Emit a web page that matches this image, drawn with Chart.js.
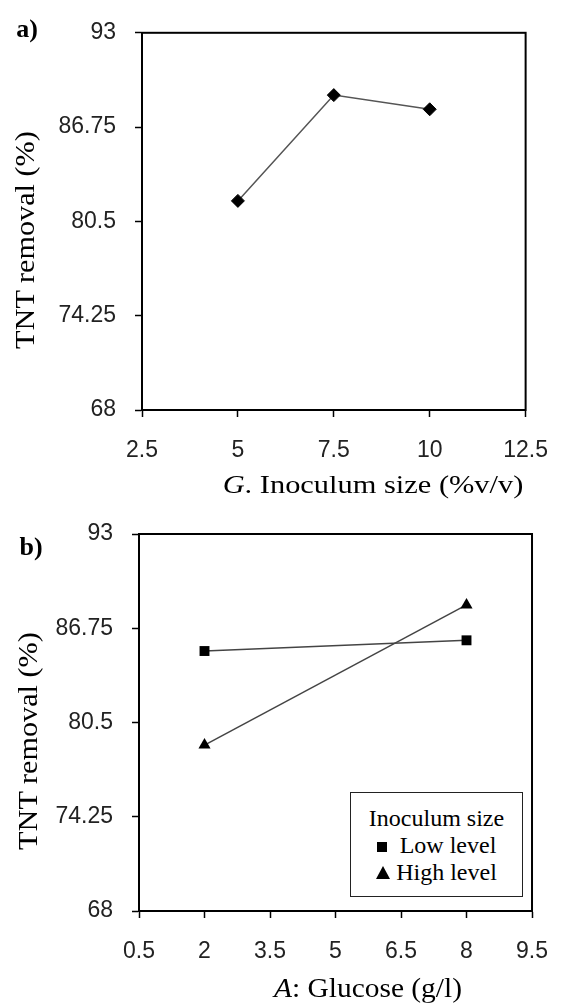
<!DOCTYPE html>
<html>
<head>
<meta charset="utf-8">
<script src="https://cdn.jsdelivr.net/npm/chart.js@4/dist/chart.umd.min.js"></script>
<style>
  html, body { margin: 0; padding: 0; background: #fff; }
  #wrap { position: relative; width: 568px; height: 1004px; overflow: hidden; background: #fff; }
  canvas { position: absolute; left: 0; }
  .t { position: absolute; white-space: nowrap; font-family: "Liberation Serif", "Times New Roman", serif; color: #000; line-height: 1; transform: translate(-50%, -50%); }
  .rot { transform: translate(-50%, -50%) rotate(-90deg) scaleX(1.08); }
  .lab { font-weight: bold; font-size: 26px; }
  #legend { position: absolute; left: 350px; top: 792px; width: 171px; border: 1px solid #222; background: #fff;
            font-family: "Liberation Serif", "Times New Roman", serif; font-size: 24px; line-height: 27px; text-align: center; padding-top: 12px; box-sizing: content-box; height: 91px; }
  .row { white-space: nowrap; }
  .sq { display: inline-block; width: 10px; height: 10px; background: #000; margin-right: 13px; vertical-align: 1px; }
  .tri { display: inline-block; width: 0; height: 0; border-left: 7px solid transparent; border-right: 7px solid transparent; border-bottom: 13px solid #000; margin-right: 6px; vertical-align: 1px; }
</style>
</head>
<body>
<div id="wrap">
  <canvas id="ca" width="568" height="500" style="top:0"></canvas>
  <canvas id="cb" width="568" height="504" style="top:500px"></canvas>

  <div class="t lab" style="left:27px; top:29px;">a)</div>
  <div class="t rot" style="left:25px; top:240px; font-size:28px;">TNT removal (%)</div>
  <div class="t" style="left:373px; top:485px; font-size:26px; transform: translate(-50%, -50%) scaleX(1.17);"><i>G</i>. Inoculum size (%v/v)</div>

  <div class="t lab" style="left:31px; top:547px;">b)</div>
  <div class="t rot" style="left:28px; top:741px; font-size:28px;">TNT removal (%)</div>
  <div class="t" style="left:368px; top:988px; font-size:27px; transform: translate(-50%, -50%) scaleX(1.09);"><i>A</i>: Glucose (g/l)</div>

  <div id="legend"></div>
</div>
<script>
// ---- data ----
const inoculumSize = [5, 7.5, 10];
const removalA = [81.86, 88.87, 87.93];

const glucose = [2, 8];
const lowLevel = [85.24, 85.95];
const highLevel = [79.0, 88.3];

const yTicks = [68, 74.25, 80.5, 86.75, 93];
const xTicksA = [2.5, 5, 7.5, 10, 12.5];
const xTicksB = [0.5, 2, 3.5, 5, 6.5, 8, 9.5];

const legendTitle = 'Inoculum size';
const seriesNames = ['Low level', 'High level'];

const frame = {
  id: 'frame',
  afterDraw(chart) {
    const a = chart.chartArea, ctx = chart.ctx;
    ctx.save();
    ctx.strokeStyle = '#000';
    ctx.lineWidth = 2;
    ctx.strokeRect(a.left, a.top, a.right - a.left, a.bottom - a.top);
    ctx.restore();
  }
};

function pts(xs, ys) { return xs.map((x, i) => ({ x: x, y: ys[i] })); }

function makeChart(id, datasets, xTicks, yLeft, padTop, padRight, padBottom) {
  const tickFont = { family: '"Liberation Sans", Arial, sans-serif', size: 23 };
  return new Chart(document.getElementById(id), {
    type: 'scatter',
    data: { datasets: datasets },
    plugins: [frame],
    options: {
      responsive: false,
      animation: false,
      devicePixelRatio: 1,
      layout: { padding: { left: 0, top: padTop, right: padRight, bottom: padBottom } },
      plugins: { legend: { display: false }, tooltip: { enabled: false } },
      scales: {
        x: {
          type: 'linear',
          min: xTicks[0], max: xTicks[xTicks.length - 1],
          afterBuildTicks: s => { s.ticks = xTicks.map(v => ({ value: v })); },
          afterFit: s => { s.height = 60; },
          ticks: { font: tickFont, color: '#222', padding: 20, maxRotation: 0, autoSkip: false, callback: v => String(v) },
          grid: { drawOnChartArea: false, drawTicks: true, tickLength: 7, tickWidth: 1.5, tickColor: '#000' },
          border: { display: true, color: '#000', width: 2 }
        },
        y: {
          type: 'linear',
          min: yTicks[0], max: yTicks[yTicks.length - 1],
          afterBuildTicks: s => { s.ticks = yTicks.map(v => ({ value: v })); },
          afterFit: s => { s.width = yLeft; },
          ticks: { font: tickFont, color: '#222', padding: 19, autoSkip: false, callback: v => String(v) },
          grid: { drawOnChartArea: false, drawTicks: true, tickLength: 7, tickWidth: 1.5, tickColor: '#000' },
          border: { display: true, color: '#000', width: 2 }
        }
      }
    }
  });
}

makeChart('ca', [{
  label: 'TNT removal',
  data: pts(inoculumSize, removalA),
  showLine: true,
  borderColor: '#555', borderWidth: 1.5,
  pointStyle: 'rectRot', pointRadius: 6.5,
  pointBackgroundColor: '#000', pointBorderColor: '#000', pointBorderWidth: 1
}], xTicksA, 142, 24, 22, 30);

makeChart('cb', [{
  label: seriesNames[0],
  data: pts(glucose, lowLevel),
  showLine: true,
  borderColor: '#444', borderWidth: 1.5,
  pointStyle: 'rect', pointRadius: 7,
  pointBackgroundColor: '#000', pointBorderColor: '#000', pointBorderWidth: 0
}, {
  label: seriesNames[1],
  data: pts(glucose, highLevel),
  showLine: true,
  borderColor: '#444', borderWidth: 1.5,
  pointStyle: 'triangle', pointRadius: 7,
  pointBackgroundColor: '#000', pointBorderColor: '#000', pointBorderWidth: 0
}], xTicksB, 139, 34, 30, 33);

// legend built from series names
const lg = document.getElementById('legend');
lg.innerHTML = '<div class="row">' + legendTitle + '</div>' +
  '<div class="row"><span class="sq"></span>' + seriesNames[0] + '</div>' +
  '<div class="row"><span class="tri"></span>' + seriesNames[1] + '</div>';
</script>
</body>
</html>
